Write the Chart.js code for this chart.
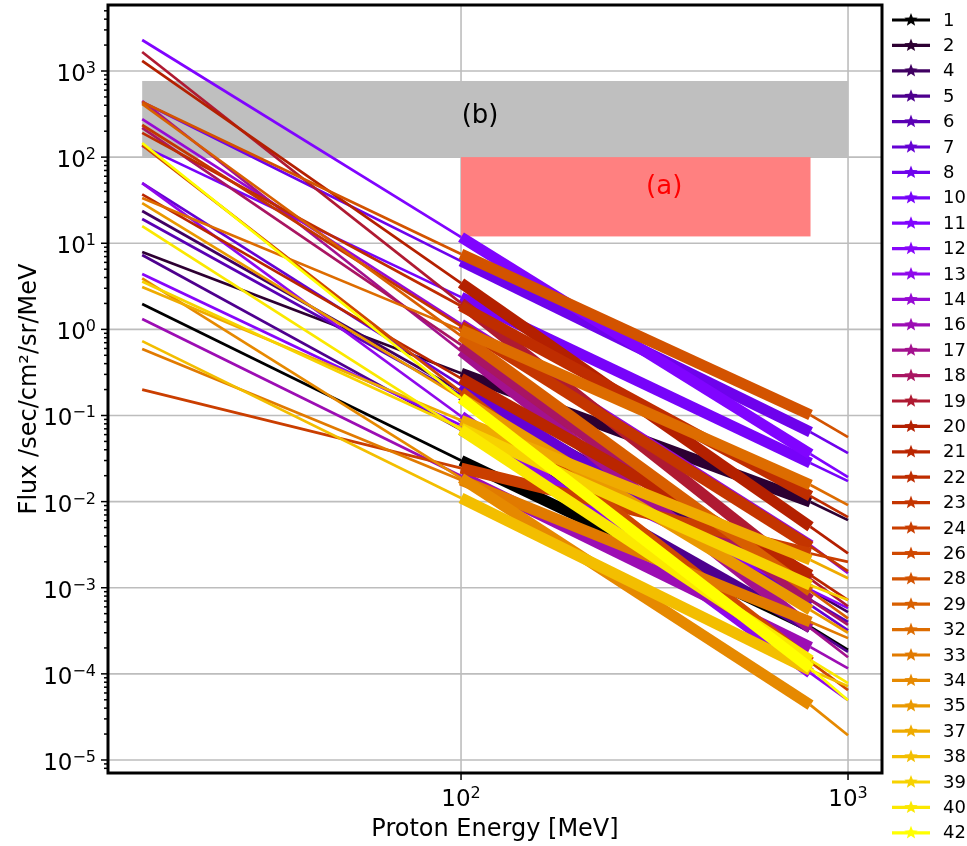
<!DOCTYPE html>
<html>
<head>
<meta charset="utf-8">
<title>Proton flux spectra</title>
<script src="https://cdn.jsdelivr.net/npm/chart.js@4"></script>
<style>
  body { margin: 0; background: #fff; }
</style>
</head>
<body>
<canvas id="fluxChart" width="967" height="846"></canvas>
<script>
// energies [MeV] where each spectrum is sampled: fit start, data start, data end, fit end
const energies = [15, 100, 800, 1000];

const eventLabels = ['1', '2', '4', '5', '6', '7', '8', '10', '11', '12', '13', '14', '16', '17', '18', '19', '20',
  '21', '22', '23', '24', '26', '28', '29', '32', '33', '34', '35', '37', '38', '39', '40', '42'];

// flux at each energy, one entry per event
const fluxAt15 = [1.97, 7.9, 23.7, 7.3, 19.1, 50, 437, 135, 2290, 4.4, 50, 277, 1.32, 449, 218, 1660, 1310,
  37, 191, 236, 0.20, 138, 437, 414, 33.5, 0.59, 3.9, 29.3, 3.1, 0.73, 3.6, 15.8, 146];
const fluxAt100 = [0.030, 0.31, 0.19, 0.068, 0.173, 0.225, 6.2, 2.37, 11.8, 0.077, 0.098, 1.15, 0.0198, 0.56, 0.66, 2.02, 3.45,
  0.27, 1.87, 1.09, 0.0245, 0.187, 7.5, 0.84, 0.98, 0.0178, 0.0187, 0.159, 0.088, 0.011, 0.071, 0.068, 0.159];
const fluxAt800 = [0.00035, 0.0099, 0.00094, 0.00034, 0.00072, 0.00063, 0.064, 0.028, 0.0356, 0.00094, 0.000102, 0.0031, 0.000204, 0.00034, 0.00072, 0.00126, 0.0051,
  0.0014, 0.0116, 0.0030, 0.0025, 0.000137, 0.101, 0.00091, 0.0156, 0.0004, 0.0000433, 0.00055, 0.0021, 0.00011, 0.00107, 0.000144, 0.000116];
const fluxAt1000 = [0.00019, 0.0061, 0.00052, 0.00018, 0.0004, 0.00032, 0.0366, 0.0173, 0.0192, 0.00058, 0.0000494, 0.00148, 0.000116, 0.000156, 0.00037, 0.00061, 0.0025,
  0.00072, 0.0066, 0.00156, 0.0020, 0.0000647, 0.056, 0.00044, 0.0091, 0.00026, 0.0000194, 0.0003, 0.00129, 0.000072, 0.00072, 0.000078, 0.0000494];

// shaded regions: [E min, E max, flux min, flux max]
const regionA = [100, 800, 12, 100];
const regionB = [15, 1000, 100, 766];

const FONT = "'DejaVu Sans', sans-serif";

// matplotlib "gnuplot" colormap
function gnuplotColor(t) {
  const r = Math.sqrt(t), g = t * t * t, b = Math.max(0, Math.sin(2 * Math.PI * t));
  return `rgb(${Math.round(r * 255)},${Math.round(g * 255)},${Math.round(b * 255)})`;
}

const colors = eventLabels.map((_, i) => gnuplotColor(i / (eventLabels.length - 1)));

const datasets = eventLabels.map((lab, i) => ({
  label: lab,
  data: energies.map((e, j) => ({ x: e, y: [fluxAt15, fluxAt100, fluxAt800, fluxAt1000][j][i] })),
  borderColor: colors[i],
  borderWidth: 2.7,
  pointRadius: 0,
  order: -i,
  segment: {
    // thick part = measured points between 100 and 800 MeV
    borderWidth: c => c.p0DataIndex === 1 ? 11 : 2.7
  }
}));

function drawStar(ctx, cx, cy, R, r) {
  ctx.beginPath();
  for (let k = 0; k < 10; k++) {
    const rad = k % 2 === 0 ? R : r;
    const a = -Math.PI / 2 + k * Math.PI / 5;
    const px = cx + rad * Math.cos(a), py = cy + rad * Math.sin(a);
    if (k === 0) ctx.moveTo(px, py); else ctx.lineTo(px, py);
  }
  ctx.closePath();
  ctx.fill();
}

function powerLabel(ctx, exp, x, y, align) {
  const base = '10', sup = exp < 0 ? '\u2212' + Math.abs(exp) : String(exp);
  ctx.font = `23px ${FONT}`;
  const wb = ctx.measureText(base).width;
  ctx.font = `16px ${FONT}`;
  const ws = ctx.measureText(sup).width;
  const total = wb + ws;
  let left = align === 'right' ? x - total : x - total / 2;
  ctx.textAlign = 'left';
  ctx.textBaseline = 'alphabetic';
  ctx.fillStyle = '#000';
  ctx.font = `23px ${FONT}`;
  ctx.fillText(base, left, y);
  ctx.font = `16px ${FONT}`;
  ctx.fillText(sup, left + wb, y - 8);
}

const decor = {
  id: 'decor',
  beforeDatasetsDraw(chart) {
    const { ctx, chartArea: a, scales: { x, y } } = chart;
    ctx.save();
    // grid
    ctx.strokeStyle = '#bdbdbd';
    ctx.lineWidth = 1.6;
    for (let k = -5; k <= 3; k++) {
      const py = y.getPixelForValue(Math.pow(10, k));
      ctx.beginPath(); ctx.moveTo(a.left, py); ctx.lineTo(a.right, py); ctx.stroke();
    }
    for (let k = 2; k <= 3; k++) {
      const px = x.getPixelForValue(Math.pow(10, k));
      ctx.beginPath(); ctx.moveTo(px, a.top); ctx.lineTo(px, a.bottom); ctx.stroke();
    }
    // regions
    const rect = (r, color) => {
      const x0 = x.getPixelForValue(r[0]), x1 = x.getPixelForValue(r[1]);
      const y0 = y.getPixelForValue(r[3]), y1 = y.getPixelForValue(r[2]);
      ctx.fillStyle = color;
      ctx.fillRect(x0, y0, x1 - x0, y1 - y0);
    };
    rect(regionB, 'rgb(191,191,191)');
    rect(regionA, 'rgb(255,128,128)');
    ctx.restore();
  },
  afterDatasetsDraw(chart) {
    const { ctx, scales: { x, y } } = chart;
    ctx.save();
    ctx.font = `26px ${FONT}`;
    ctx.textAlign = 'center';
    ctx.textBaseline = 'middle';
    ctx.fillStyle = '#000';
    ctx.fillText('(b)', x.getPixelForValue(112), y.getPixelForValue(300));
    ctx.fillStyle = 'rgb(255,0,0)';
    ctx.fillText('(a)', x.getPixelForValue(335), y.getPixelForValue(45));
    ctx.restore();
  },
  afterDraw(chart) {
    const { ctx, chartArea: a, scales: { x, y } } = chart;
    ctx.save();
    ctx.strokeStyle = '#000';
    // ticks
    ctx.lineWidth = 1.5;
    for (let k = -6; k <= 3; k++) {
      for (let m = 1; m <= 9; m++) {
        const v = m * Math.pow(10, k);
        const py = y.getPixelForValue(v);
        if (py < a.top || py > a.bottom) continue;
        const len = m === 1 ? 7 : 4;
        ctx.beginPath(); ctx.moveTo(a.left, py); ctx.lineTo(a.left - len, py); ctx.stroke();
      }
    }
    for (let k = 2; k <= 3; k++) {
      const px = x.getPixelForValue(Math.pow(10, k));
      ctx.beginPath(); ctx.moveTo(px, a.bottom); ctx.lineTo(px, a.bottom + 7); ctx.stroke();
    }
    // frame
    ctx.lineWidth = 3;
    ctx.strokeRect(a.left, a.top, a.right - a.left, a.bottom - a.top);
    // tick labels
    for (let k = -5; k <= 3; k++) {
      powerLabel(ctx, k, 96, y.getPixelForValue(Math.pow(10, k)) + 10, 'right');
    }
    for (let k = 2; k <= 3; k++) {
      powerLabel(ctx, k, x.getPixelForValue(Math.pow(10, k)), a.bottom + 33, 'center');
    }
    // axis titles
    ctx.fillStyle = '#000';
    ctx.font = `24px ${FONT}`;
    ctx.textAlign = 'center';
    ctx.textBaseline = 'alphabetic';
    ctx.fillText('Proton Energy [MeV]', (a.left + a.right) / 2, 836);
    ctx.save();
    ctx.translate(36, (a.top + a.bottom) / 2);
    ctx.rotate(-Math.PI / 2);
    ctx.fillText('Flux /sec/cm\u00b2/sr/MeV', 0, 0);
    ctx.restore();
    // legend
    ctx.font = `18px ${FONT}`;
    ctx.textAlign = 'left';
    ctx.textBaseline = 'middle';
    eventLabels.forEach((lab, i) => {
      const ly = 20 + i * 25.4;
      ctx.strokeStyle = colors[i];
      ctx.fillStyle = colors[i];
      ctx.lineWidth = 3.2;
      ctx.beginPath(); ctx.moveTo(892, ly); ctx.lineTo(930, ly); ctx.stroke();
      drawStar(ctx, 911, ly, 7, 3);
      ctx.fillStyle = '#000';
      ctx.fillText(lab, 943, ly + 1);
    });
    ctx.restore();
  }
};

new Chart(document.getElementById('fluxChart'), {
  type: 'line',
  data: { datasets },
  options: {
    responsive: false,
    animation: false,
    events: [],
    layout: { padding: { left: 0, right: 85, top: 5, bottom: 0 } },
    plugins: { legend: { display: false }, tooltip: { enabled: false } },
    scales: {
      x: {
        type: 'logarithmic', min: 12.24, max: 1224,
        ticks: { display: false }, grid: { display: false }, border: { display: false },
        afterFit: s => { s.height = 73; }
      },
      y: {
        type: 'logarithmic', min: 7.06e-6, max: 5840,
        ticks: { display: false }, grid: { display: false }, border: { display: false },
        afterFit: s => { s.width = 108; }
      }
    }
  },
  plugins: [decor]
});
</script>
</body>
</html>
